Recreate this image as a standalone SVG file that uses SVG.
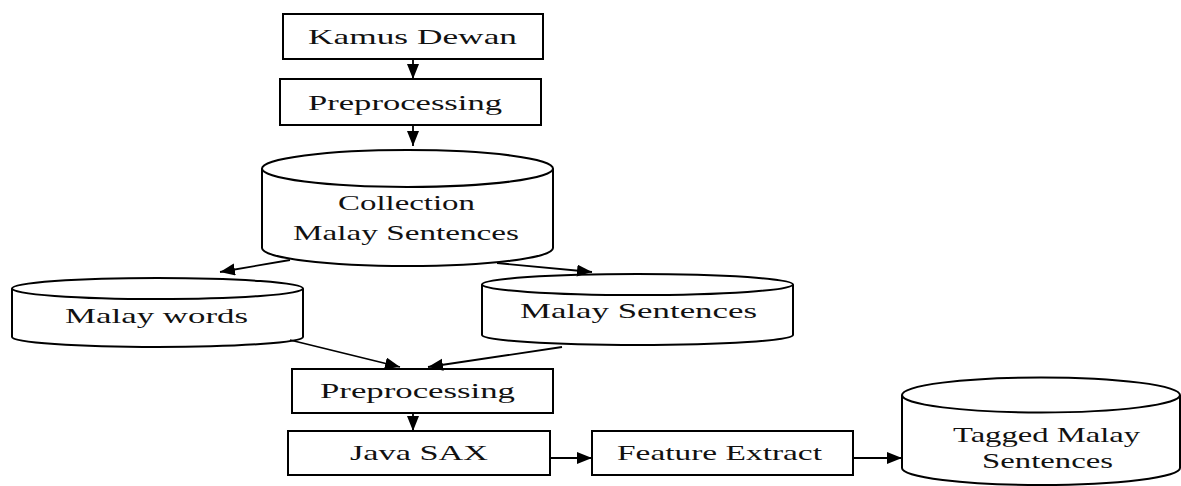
<svg xmlns="http://www.w3.org/2000/svg" width="1181" height="486" viewBox="0 0 1181 486">
<style>
.box{fill:#fff;stroke:#000;stroke-width:2}
.cyl{fill:#fff;stroke:#000;stroke-width:2}
.lbl{font-family:"Liberation Serif","Times New Roman",serif;font-size:22px;fill:#111}
.con{stroke:#000;stroke-width:1.8;fill:none;marker-end:url(#ah)}
</style>
<defs>
<marker id="ah" markerUnits="userSpaceOnUse" markerWidth="18" markerHeight="14" refX="15" refY="6" orient="auto">
<path d="M0,0 L15,6 L0,12 Z" fill="#000"/>
</marker>
</defs>
<rect width="1181" height="486" fill="#fff"/>
<g id="kamus">
<rect class="box" x="283" y="14" width="260" height="45"/>
<text class="lbl" x="308" y="44" textLength="209" lengthAdjust="spacingAndGlyphs">Kamus Dewan</text>
</g>
<g id="prep1">
<rect class="box" x="280" y="79" width="261" height="46"/>
<text class="lbl" x="308" y="110" textLength="194" lengthAdjust="spacingAndGlyphs">Preprocessing</text>
</g>
<g id="collection">
<path class="cyl" d="M262,168.5 L262,248 A145.5,18 0 0 0 553,248 L553,168.5"/>
<ellipse class="cyl" cx="407.5" cy="168.5" rx="145.5" ry="18.5"/>
<text class="lbl" x="338" y="210" textLength="137" lengthAdjust="spacingAndGlyphs">Collection</text>
<text class="lbl" x="293" y="240" textLength="226" lengthAdjust="spacingAndGlyphs">Malay Sentences</text>
</g>
<g id="malaywords">
<path class="cyl" d="M12,288.5 L12,337 A145.5,10 0 0 0 303,337 L303,288.5"/>
<ellipse class="cyl" cx="157.5" cy="288.5" rx="145.5" ry="10.5"/>
<text class="lbl" x="65" y="323" textLength="183" lengthAdjust="spacingAndGlyphs">Malay words</text>
</g>
<g id="malaysentences">
<path class="cyl" d="M482,284.5 L482,335 A155.5,10 0 0 0 793,335 L793,284.5"/>
<ellipse class="cyl" cx="637.5" cy="284.5" rx="155.5" ry="10.5"/>
<text class="lbl" x="520" y="318" textLength="237" lengthAdjust="spacingAndGlyphs">Malay Sentences</text>
</g>
<g id="prep2">
<rect class="box" x="292" y="369" width="261" height="44"/>
<text class="lbl" x="320" y="398" textLength="195" lengthAdjust="spacingAndGlyphs">Preprocessing</text>
</g>
<g id="javasax">
<rect class="box" x="288" y="431" width="262" height="44"/>
<text class="lbl" x="350" y="460" textLength="138" lengthAdjust="spacingAndGlyphs">Java SAX</text>
</g>
<g id="feature">
<rect class="box" x="592" y="431" width="261" height="44"/>
<text class="lbl" x="617" y="460" textLength="205" lengthAdjust="spacingAndGlyphs">Feature Extract</text>
</g>
<g id="tagged">
<path class="cyl" d="M902,395 L902,468 A139,17 0 0 0 1180,468 L1180,395"/>
<ellipse class="cyl" cx="1041" cy="395" rx="139" ry="17.5"/>
<text class="lbl" x="953" y="442" textLength="187" lengthAdjust="spacingAndGlyphs">Tagged Malay</text>
<text class="lbl" x="982" y="468" textLength="131" lengthAdjust="spacingAndGlyphs">Sentences</text>
</g>
<g id="connectors">
<line class="con" x1="413" y1="59" x2="413" y2="79"/>
<line class="con" x1="413" y1="125" x2="413" y2="146"/>
<line class="con" x1="290" y1="260" x2="220" y2="272"/>
<line class="con" x1="497" y1="263" x2="592" y2="272"/>
<line class="con" x1="290" y1="340" x2="400" y2="367"/>
<line class="con" x1="562" y1="347" x2="428" y2="367"/>
<line class="con" x1="413" y1="413" x2="413" y2="431"/>
<line class="con" x1="550" y1="458" x2="592" y2="458"/>
<line class="con" x1="853" y1="458" x2="902" y2="458"/>
</g>
</svg>
